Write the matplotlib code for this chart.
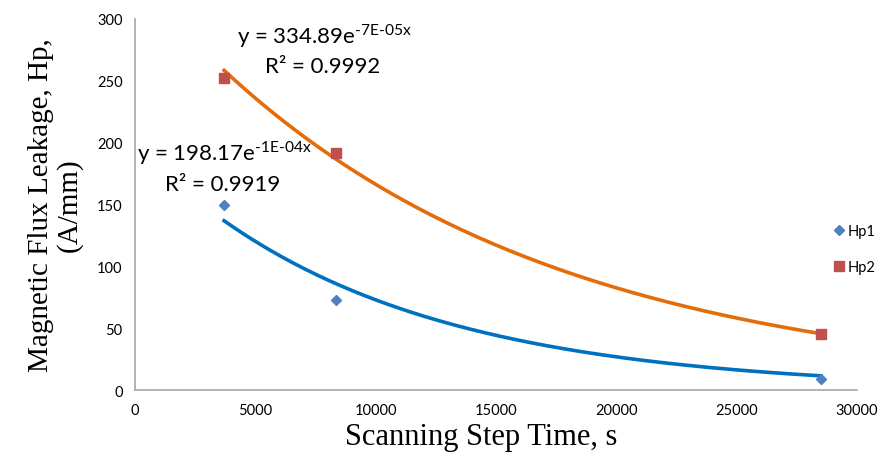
import numpy as np
import matplotlib.pyplot as plt

plt.rcParams['mathtext.fontset'] = 'custom'
plt.rcParams['mathtext.rm'] = 'Lato'

# measured points
x_pts = [3700, 8350, 28500]
hp1 = [150, 73, 9]
hp2 = [252, 192, 45]

# trendline coefficients as printed on the chart
a1, b1 = 198.17, -1.0e-04
a2, b2 = 334.89, -7.0e-05

fig = plt.figure(figsize=(8.83, 4.64), dpi=100)
ax = fig.add_axes([0.1529, 0.1573, 0.8177, 0.7996])

xs = np.linspace(x_pts[0], x_pts[-1], 200)
ax.plot(xs, a1 * np.exp(b1 * xs), color='#0070C0', lw=2.6, zorder=2)
ax.plot(xs, a2 * np.exp(b2 * xs), color='#E46C0A', lw=2.6, zorder=2)
ax.plot(x_pts, hp1, 'D', color='#4F81BD', ms=5, ls='none', label='Hp1', zorder=3)
ax.plot(x_pts, hp2, 's', color='#C0504D', ms=7, ls='none', label='Hp2', zorder=3)

ax.set_xlim(0, 30000)
ax.set_ylim(0, 300)
ax.set_xticks(range(0, 30001, 5000))
ax.set_yticks(range(0, 301, 50))
for s in ['top', 'right']:
    ax.spines[s].set_visible(False)
for s in ['left', 'bottom']:
    ax.spines[s].set_color('#A6A6A6')
    ax.spines[s].set_linewidth(1.2)
ax.tick_params(length=0, labelsize=10.5, pad=9, colors='black')
for lab in ax.get_xticklabels() + ax.get_yticklabels():
    lab.set_family('Lato')

ax.set_xlabel('Scanning Step Time, s', family='Liberation Serif', fontsize=22, labelpad=0)
ax.xaxis.set_label_coords(0.48, -0.085, transform=ax.transAxes)
ax.xaxis.label.set_va('top')
ax.set_ylabel('Magnetic Flux Leakage, Hp,\n(A/mm)', family='Liberation Serif',
              fontsize=21, labelpad=10, linespacing=1.1)

tf = dict(family='Lato', fontsize=16)
ax.text(4250, 281, r'y = 334.89e$^{\text{-7E-05x}}$', **tf)
ax.text(5400, 257, 'R² = 0.9992', **tf)
ax.text(100, 186, r'y = 198.17e$^{\text{-1E-04x}}$', **tf)
ax.text(1250, 162, 'R² = 0.9919', **tf)

fig.legend(loc='center left', bbox_to_anchor=(832 / 883, 1 - 250 / 464), frameon=False,
           prop={'family': 'Lato', 'size': 10.5}, handletextpad=0.05,
           handlelength=1.0, labelspacing=1.5, borderaxespad=0, borderpad=0)

fig.savefig('out.png', dpi=100)
